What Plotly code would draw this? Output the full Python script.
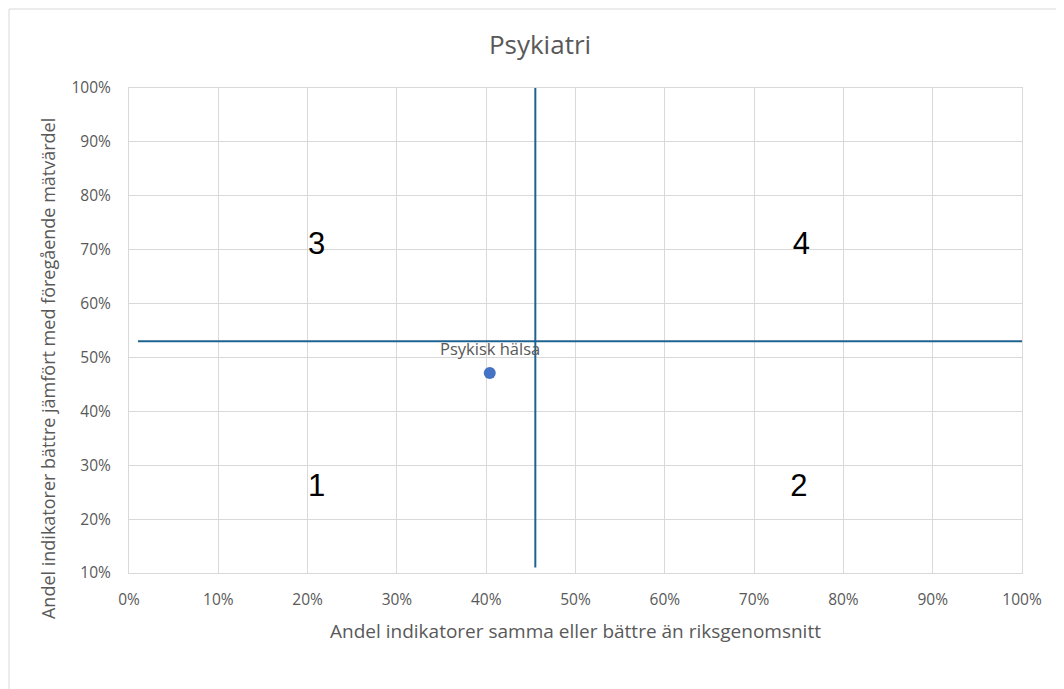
import plotly.graph_objects as go

# Data
point_names = ["Psykisk hälsa"]
point_x = [40.4]
point_y = [47.1]

vline_x = [45.5, 45.5]
vline_y = [11, 100]
hline_x = [1, 100]
hline_y = [53, 53]

quad_labels = ["1", "2", "3", "4"]
quad_x = [21, 75, 21, 75.3]
quad_y = [25.8, 25.8, 70.7, 70.7]

x_ticks = list(range(0, 101, 10))
y_ticks = list(range(10, 101, 10))

FONT = "Open Sans"
GRAY = "#595959"
LINE = "#1F6391"

fig = go.Figure()
fig.add_trace(go.Scatter(x=vline_x, y=vline_y, mode="lines",
                         line=dict(color=LINE, width=2), hoverinfo="skip"))
fig.add_trace(go.Scatter(x=hline_x, y=hline_y, mode="lines",
                         line=dict(color=LINE, width=2), hoverinfo="skip"))
fig.add_trace(go.Scatter(x=point_x, y=point_y, mode="markers",
                         marker=dict(color="#4472C4", size=12)))
fig.add_trace(go.Scatter(x=quad_x, y=quad_y, mode="text", text=quad_labels,
                         textfont=dict(family="Liberation Sans", size=31, color="#000000"),
                         hoverinfo="skip"))

for name, px, py in zip(point_names, point_x, point_y):
    fig.add_annotation(x=px, y=py, text=name, showarrow=False, yshift=25,
                       font=dict(family=FONT, size=16.5, color=GRAY))

# y-axis title (placed like the reference, slightly below the plot centre)
fig.add_annotation(xref="paper", yref="paper", x=-0.0907, y=0.4206,
                   xanchor="center", yanchor="middle", textangle=-90, showarrow=False,
                   text="Andel indikatorer bättre jämfört med föregående mätvärdel",
                   font=dict(family=FONT, size=18, color=GRAY))

fig.update_layout(
    width=1064, height=689,
    margin=dict(l=121, r=50, t=80, b=124),
    paper_bgcolor="white", plot_bgcolor="white",
    showlegend=False,
    title=dict(text="Psykiatri", x=0.5, xanchor="center", y=0.946, yanchor="middle",
               font=dict(family=FONT, size=26, color=GRAY)),
    font=dict(family=FONT, color=GRAY),
)
fig.update_xaxes(range=[0, 100], tickvals=x_ticks, ticktext=[f"{v}%" for v in x_ticks],
                 showgrid=True, gridcolor="#d9d9d9", gridwidth=1,
                 showline=True, linecolor="#d9d9d9", linewidth=1, mirror=True,
                 zeroline=False, ticks="", ticklabelstandoff=12,
                 tickfont=dict(family=FONT, size=15.5, color=GRAY),
                 title=dict(text="Andel indikatorer samma eller bättre än riksgenomsnitt",
                            font=dict(family=FONT, size=19, color=GRAY), standoff=16))
fig.update_yaxes(range=[10, 100], tickvals=y_ticks, ticktext=[f"{v}%" for v in y_ticks],
                 showgrid=True, gridcolor="#d9d9d9", gridwidth=1,
                 showline=True, linecolor="#d9d9d9", linewidth=1, mirror=True,
                 zeroline=False, ticks="", ticklabelstandoff=14,
                 tickfont=dict(family=FONT, size=15.5, color=GRAY))

# outer chart border (left/top visible in reference)
fig.add_shape(type="rect", xref="paper", yref="paper",
              x0=-120/893, x1=1.2, y0=-1.0, y1=1 + 79/485,
              line=dict(color="#d9d9d9", width=1), fillcolor="rgba(0,0,0,0)", layer="below")

fig.write_html("out.html")
